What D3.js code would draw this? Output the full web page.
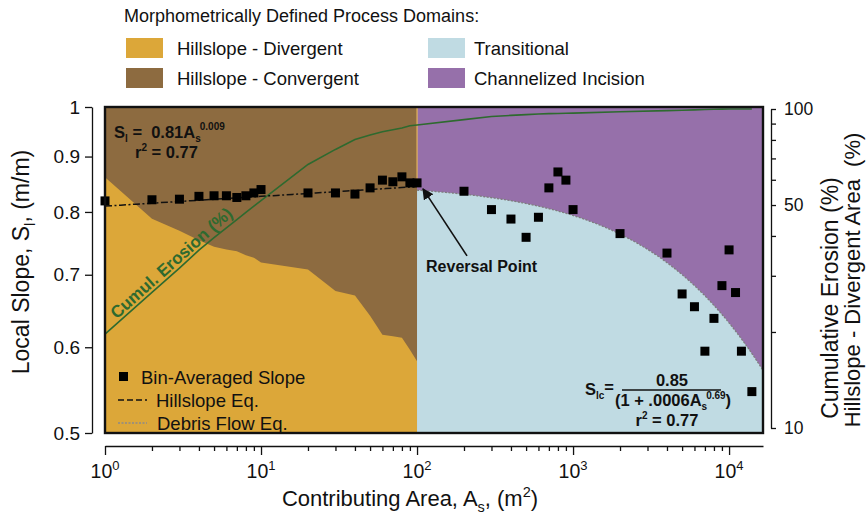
<!DOCTYPE html>
<html><head><meta charset="utf-8">
<script src="https://cdn.jsdelivr.net/npm/d3@7"></script>
<style>
body{margin:0;background:#fff}
svg{display:block}
text{font-family:"Liberation Sans",Arial,Helvetica,sans-serif;fill:#111}
</style>
</head><body>
<svg id="chart" width="866" height="519"></svg>
<script>
// Contributing-area bins (m²) and bin-averaged local slope (m/m)
const areaBins = [1,2,3,4,5,6,7,8,9,10,20,30,40,50,60,70,80,90,100,
  200,300,400,500,600,700,800,900,1000,2000,4000,5000,6000,7000,8000,9000,10000,11000,12000,14000];
const binSlope = [0.819,0.821,0.822,0.827,0.828,0.828,0.825,0.828,0.833,0.839,0.833,0.833,0.831,0.842,0.856,0.853,0.862,0.851,0.851,
  0.836,0.804,0.788,0.758,0.791,0.842,0.871,0.856,0.804,0.764,0.733,0.672,0.654,0.595,0.638,0.684,0.738,0.674,0.595,0.546];

// Cumulative erosion (%) for each bin
const cumErosion = [19.7,26.6,31.7,36.1,39.5,42.4,45.0,47.4,49.6,51.6,67.0,74.7,80.2,82.9,84.9,86.1,87.2,88.6,89.1,
  92.6,94.7,95.5,96.0,96.5,96.7,96.8,97.0,97.1,98.0,98.8,99.1,99.4,99.6,99.8,99.9,100,100,100,100];

// Hillslope-divergent share of area (%) over the hillslope bins (1–100 m²)
const hillslopeBins = [1,2,3,4,5,6,7,8,9,10,20,30,40,50,60,70,80,90,100];
const divergentPct = [61.1,45.3,41.5,38.8,37.0,36.3,35.8,34.8,34.2,33.0,31.4,26.9,26.0,22.5,19.6,19.4,19.2,17.6,16.2];

// Fitted relations: hillslope S = a·A^b ; debris flow S = c / (1 + k·A^m)
const hillslopeFit = {a: 0.81, b: 0.009};
const debrisFit = {c: 0.85, k: 0.0006, m: 0.69};
const reversalArea = 100;

// Axis tick values
const slopeTicks = [0.5,0.6,0.7,0.8,0.9,1];
const areaMajorTicks = [1,10,100,1000,10000];
const pctTicks = [10,20,30,40,50,60,70,80,90,100];
const pctLabelled = [10,50,100];

const domains = [
  {name:"Hillslope - Divergent", color:"#dca739"},
  {name:"Hillslope - Convergent", color:"#8d6b40"},
  {name:"Transitional", color:"#c0dbe3"},
  {name:"Channelized Incision", color:"#9670aa"}
];

const svg = d3.select("#chart");
const L = 105, R = 763, T = 107, B = 433;
const areaMax = 16500;

const x = d3.scaleLog().domain([1, areaMax]).range([L, R]);
const y = d3.scaleLog().domain([0.5, 1]).range([B, T]);
const yR = d3.scaleLog().domain([10, 100]).range([428, 109]);

// ---- domain fills ----
svg.append("clipPath").attr("id", "plotclip").append("rect")
  .attr("x", L).attr("y", T).attr("width", R - L).attr("height", B - T);
const plot = svg.append("g").attr("clip-path", "url(#plotclip)");

const xRev = x(reversalArea);
plot.append("rect").attr("x", L).attr("y", T).attr("width", xRev - L).attr("height", B - T)
  .attr("fill", domains[1].color);
plot.append("rect").attr("x", xRev).attr("y", T).attr("width", R - xRev).attr("height", B - T)
  .attr("fill", domains[3].color);

const divData = hillslopeBins.map((a, i) => [a, divergentPct[i]]);
plot.append("path").datum(divData)
  .attr("fill", domains[0].color)
  .attr("d", d3.area().x(d => x(d[0])).y0(B).y1(d => yR(d[1])));

const debrisS = a => debrisFit.c / (1 + debrisFit.k * Math.pow(a, debrisFit.m));
const debrisAreas = d3.range(0, 241).map(i => reversalArea * Math.pow(areaMax / reversalArea, i / 240));
plot.append("path").datum(debrisAreas)
  .attr("fill", domains[2].color)
  .attr("d", d3.area().x(a => x(a)).y0(B).y1(a => y(debrisS(a))));
plot.append("path").datum(debrisAreas)
  .attr("fill", "none").attr("stroke", "#7d7d7d").attr("stroke-width", 1.3)
  .attr("stroke-dasharray", "2,1.5")
  .attr("d", d3.line().x(a => x(a)).y(a => y(debrisS(a))));

// thin seam between convergent hillslope and channelized domains
plot.append("line").attr("x1", xRev).attr("x2", xRev).attr("y1", T).attr("y2", y(binSlope[18]))
  .attr("stroke", "#e2b45a").attr("stroke-width", 1.2);

// ---- cumulative erosion ----
const eroData = areaBins.map((a, i) => [a, cumErosion[i]]);
plot.append("path").datum(eroData)
  .attr("fill", "none").attr("stroke", "#2e6a2f").attr("stroke-width", 1.6)
  .attr("d", d3.line().x(d => x(d[0])).y(d => yR(d[1])));

// ---- hillslope fit ----
const hsAreas = d3.range(0, 41).map(i => Math.pow(reversalArea, i / 40));
plot.append("path").datum(hsAreas)
  .attr("fill", "none").attr("stroke", "#111").attr("stroke-width", 1.5)
  .attr("stroke-dasharray", "7,2.5,2,2.5")
  .attr("d", d3.line().x(a => x(a)).y(a => y(hillslopeFit.a * Math.pow(a, hillslopeFit.b))));

// ---- bin-averaged slope markers ----
const sq = 9;
svg.append("g").selectAll("rect").data(areaBins.map((a, i) => [a, binSlope[i]])).join("rect")
  .attr("x", d => x(d[0]) - sq / 2).attr("y", d => y(d[1]) - sq / 2)
  .attr("width", sq).attr("height", sq).attr("fill", "#000");

// plot frame
svg.append("rect").attr("x", L).attr("y", T).attr("width", R - L).attr("height", B - T)
  .attr("fill", "none").attr("stroke", "#111").attr("stroke-width", 2.4);

// ---- axes ----
const yAxis = svg.append("g").attr("transform", "translate(92,0)")
  .call(d3.axisLeft(y).tickValues(slopeTicks).tickSize(7).tickSizeOuter(0)
    .tickFormat(d => d === 1 ? "1" : d3.format(".1f")(d)));
yAxis.selectAll("text").attr("font-size", 19).attr("dx", "-2").attr("fill", "#111");
yAxis.selectAll("line,path").attr("stroke", "#111").attr("stroke-width", 1.3);

const minorArea = [];
for (let e = 0; e <= 4; e++) for (let m = 1; m <= 9; m++) {
  const v = m * Math.pow(10, e);
  if (v <= areaMax) minorArea.push(v);
}
const xAxis = svg.append("g").attr("transform", "translate(0,446)")
  .call(d3.axisBottom(x).tickValues(minorArea).tickSizeOuter(0).tickFormat(""));
xAxis.selectAll(".tick line").attr("y2", d => areaMajorTicks.includes(d) ? 9 : 5);
xAxis.selectAll("line,path").attr("stroke", "#111").attr("stroke-width", 1.3);
const xl = svg.append("g").selectAll("text").data(areaMajorTicks).join("text")
  .attr("x", d => x(d)).attr("y", 478).attr("text-anchor", "middle").attr("font-size", 19.5);
xl.append("tspan").text("10");
xl.append("tspan").attr("dy", -8).attr("font-size", 13).text(d => Math.round(Math.log10(d)));

const rAxis = svg.append("g").attr("transform", "translate(771,0)")
  .call(d3.axisRight(yR).tickValues(pctTicks).tickSize(5).tickSizeOuter(0)
    .tickFormat(d => pctLabelled.includes(d) ? d : ""));
rAxis.selectAll("text").attr("font-size", 17.5).attr("dx", "5").attr("fill", "#111");
rAxis.selectAll("line,path").attr("stroke", "#111").attr("stroke-width", 1.3);

// axis titles
const yt = svg.append("text").attr("transform", "translate(29,262) rotate(-90)")
  .attr("text-anchor", "middle").attr("font-size", 23);
yt.append("tspan").text("Local Slope, S");
yt.append("tspan").attr("font-size", 15).attr("dy", 6).text("l");
yt.append("tspan").attr("dy", -6).text(", (m/m)");

const xt = svg.append("text").attr("x", 410).attr("y", 506)
  .attr("text-anchor", "middle").attr("font-size", 22);
xt.append("tspan").text("Contributing Area, A");
xt.append("tspan").attr("font-size", 14.5).attr("dy", 6).text("s");
xt.append("tspan").attr("dy", -6).text(", (m");
xt.append("tspan").attr("font-size", 14.5).attr("dy", -9).text("2");
xt.append("tspan").attr("dy", 9).text(")");

svg.append("text").attr("transform", "translate(838,298) rotate(-90)")
  .attr("text-anchor", "middle").attr("font-size", 23).text("Cumulative Erosion (%)");
svg.append("text").attr("transform", "translate(860,280) rotate(-90)")
  .attr("text-anchor", "middle").attr("font-size", 22).attr("xml:space", "preserve")
  .text("Hillslope - Divergent Area  (%)");

// ---- domain legend ----
svg.append("text").attr("x", 124).attr("y", 22).attr("font-size", 18)
  .text("Morphometrically Defined Process Domains:");
const lg = svg.append("g").selectAll("g").data(domains).join("g")
  .attr("transform", (d, i) => `translate(${i < 2 ? 126 : 428},${i % 2 === 0 ? 38 : 68})`);
lg.append("rect").attr("width", 37).attr("height", 20).attr("fill", d => d.color);
lg.append("text").attr("x", (d, i) => i < 2 ? 51 : 46).attr("y", 16.5).attr("font-size", 18.5).text(d => d.name);

// ---- in-plot key ----
svg.append("rect").attr("x", 119).attr("y", 372).attr("width", sq).attr("height", sq).attr("fill", "#000");
svg.append("text").attr("x", 141).attr("y", 383.5).attr("font-size", 18.5).text("Bin-Averaged Slope");
svg.append("line").attr("x1", 118).attr("x2", 147).attr("y1", 400).attr("y2", 400)
  .attr("stroke", "#111").attr("stroke-width", 1.5).attr("stroke-dasharray", "6,3");
svg.append("text").attr("x", 156).attr("y", 406.5).attr("font-size", 18.5).text("Hillslope Eq.");
svg.append("line").attr("x1", 118).attr("x2", 147).attr("y1", 423).attr("y2", 423)
  .attr("stroke", "#8a8a8a").attr("stroke-width", 1.3).attr("stroke-dasharray", "2,1.5");
svg.append("text").attr("x", 157).attr("y", 430).attr("font-size", 18.5).text("Debris Flow Eq.");

// ---- hillslope equation ----
const eq1 = svg.append("text").attr("x", 114).attr("y", 138).attr("font-size", 16.5).attr("font-weight", "bold")
  .attr("xml:space", "preserve");
eq1.append("tspan").text("S");
eq1.append("tspan").attr("font-size", 10).attr("dy", 4).text("l");
eq1.append("tspan").attr("dy", -4).text(" =  0.81A");
eq1.append("tspan").attr("font-size", 10).attr("dy", 4).text("s");
eq1.append("tspan").attr("font-size", 10).attr("dy", -12).attr("dx", -1).text("0.009");
const r1 = svg.append("text").attr("x", 135).attr("y", 158).attr("font-size", 16.5).attr("font-weight", "bold");
r1.append("tspan").text("r");
r1.append("tspan").attr("font-size", 10).attr("dy", -7).text("2");
r1.append("tspan").attr("dy", 7).text(" = 0.77");

// ---- debris flow equation ----
const eqg = svg.append("g");
const s2 = eqg.append("text").attr("x", 585).attr("y", 395).attr("font-size", 16.5).attr("font-weight", "bold");
s2.append("tspan").text("S");
s2.append("tspan").attr("font-size", 10).attr("dy", 4).text("lc");
s2.append("tspan").attr("dy", -6).text("=");
eqg.append("text").attr("x", 672).attr("y", 386).attr("text-anchor", "middle").attr("font-size", 16.5)
  .attr("font-weight", "bold").text("0.85");
eqg.append("line").attr("x1", 622).attr("x2", 721).attr("y1", 390).attr("y2", 390)
  .attr("stroke", "#111").attr("stroke-width", 1.5);
const den = eqg.append("text").attr("x", 673).attr("y", 406).attr("text-anchor", "middle")
  .attr("font-size", 16.5).attr("font-weight", "bold");
den.append("tspan").text("(1 + .0006A");
den.append("tspan").attr("font-size", 10).attr("dy", 4).text("s");
den.append("tspan").attr("font-size", 10).attr("dy", -11).attr("dx", -1).text("0.69");
den.append("tspan").attr("dy", 7).text(")");
const r2 = eqg.append("text").attr("x", 667).attr("y", 426).attr("text-anchor", "middle")
  .attr("font-size", 16.5).attr("font-weight", "bold");
r2.append("tspan").text("r");
r2.append("tspan").attr("font-size", 10).attr("dy", -7).text("2");
r2.append("tspan").attr("dy", 7).text(" = 0.77");

// ---- reversal point annotation ----
svg.append("defs").append("marker").attr("id", "arrowhead").attr("viewBox", "0 0 10 10")
  .attr("refX", 9).attr("refY", 5).attr("markerWidth", 7).attr("markerHeight", 7)
  .attr("orient", "auto").append("path").attr("d", "M0,0 L10,5 L0,10 z").attr("fill", "#111");
const rx = x(reversalArea), ry = y(binSlope[18]);
svg.append("line").attr("x1", rx + 50).attr("y1", ry + 73).attr("x2", rx + 6).attr("y2", ry + 6)
  .attr("stroke", "#111").attr("stroke-width", 1.6).attr("marker-end", "url(#arrowhead)");
svg.append("text").attr("x", rx + 9).attr("y", ry + 89).attr("font-size", 16).attr("font-weight", "bold")
  .text("Reversal Point");

// ---- label along the cumulative erosion curve ----
const p1 = [x(areaBins[0]), yR(cumErosion[0])], p2 = [x(areaBins[3]), yR(cumErosion[3])];
const ang = Math.atan2(p2[1] - p1[1], p2[0] - p1[0]) * 180 / Math.PI;
const mx = x(2.9), my = p1[1] + (mx - p1[0]) * (p2[1] - p1[1]) / (p2[0] - p1[0]);
svg.append("text").attr("transform", `translate(${mx},${my}) rotate(${ang})`)
  .attr("y", -3).attr("text-anchor", "middle").attr("font-size", 17).attr("font-weight", "bold")
  .style("fill", "#2e6a2f").text("Cumul. Erosion (%)");
</script>
</body></html>
